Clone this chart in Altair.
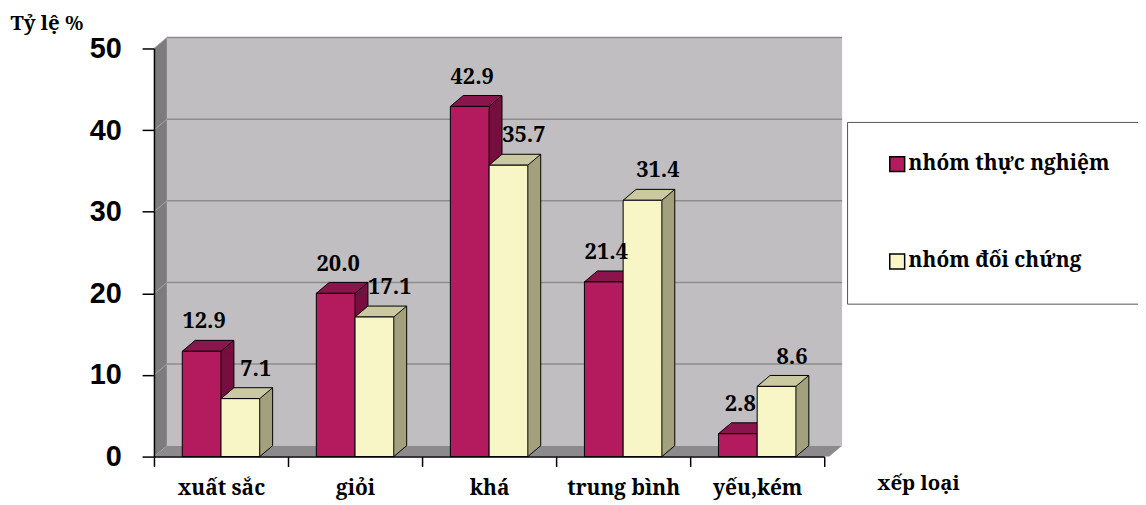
import altair as alt
import pandas as pd

# ---- data ----
categories = ["xuất sắc", "giỏi", "khá", "trung bình", "yếu,kém"]
series_names = ["nhóm thực nghiệm", "nhóm đối chứng"]
thuc_nghiem = [12.9, 20.0, 42.9, 21.4, 2.8]
doi_chung = [7.1, 17.1, 35.7, 31.4, 8.6]
y_ticks = [0, 10, 20, 30, 40, 50]

rows = []
for c, a, b in zip(categories, thuc_nghiem, doi_chung):
    rows.append({"xep_loai": c, "nhom": series_names[0], "ty_le": a})
    rows.append({"xep_loai": c, "nhom": series_names[1], "ty_le": b})
df = pd.DataFrame(rows)
grid_df = pd.DataFrame({"g": y_ticks[1:]})
one = pd.DataFrame({"k": [0]})

# ---- style ----
W, H = 675, 411
FRONT = ["#B31B5E", "#F8F6C6"]
TOP = ["#8A144C", "#CBC9A0"]
SIDE = ["#760E40", "#A3A17D"]
WALL = "#C0BEC0"
SIDEWALL = "#7D7B7D"
FLOOR = "#8C8A8C"
GRID = "#8E8C8E"
serif = "Noto Serif"
sans = "Liberation Sans"

y_scale = alt.Scale(domain=[0, 50], nice=False, zero=True)
y_axis = alt.Axis(values=y_ticks, title="Tỷ lệ %", titleAngle=0, titleX=-145, titleY=-19,
                  titleAlign="left", titleBaseline="alphabetic", titleFont=serif,
                  titleFontSize=20.5, titleFontWeight="bold", titleColor="black",
                  labelFont=sans, labelFontSize=29, labelFontWeight="bold", labelColor="black",
                  labelPadding=21, tickSize=12, tickColor="black", tickWidth=1.5,
                  domainColor="black", domainWidth=1.5, grid=False, zindex=1, format="d")
x_axis = alt.Axis(title="xếp loại", titleX=728, titleY=33, titleAlign="left",
                  titleBaseline="alphabetic", titleFont=serif, titleFontSize=20.5,
                  titleFontWeight="bold", titleColor="black",
                  labelFont=serif, labelFontSize=21, labelFontWeight="bold", labelColor="black",
                  labelAngle=0, labelBaseline="alphabetic", labelPadding=28,
                  tickBand="extent", tickSize=10, tickColor="black", tickWidth=1.5,
                  domainColor="black", domainWidth=1.5, zindex=1)
x_enc = alt.X("xep_loai:N", sort=categories,
              scale=alt.Scale(domain=categories, paddingInner=0, paddingOuter=0), axis=x_axis)
y_enc = alt.Y("ty_le:Q", scale=y_scale, axis=y_axis)

# ---- 3D background (decoration) ----
wall = alt.Chart(one).mark_rect(fill=WALL, opacity=1, yOffset=-11, y2Offset=-11).encode(
    x=alt.value(13), x2=alt.value(W + 18),
    y=alt.YDatum(50, scale=y_scale, axis=y_axis), y2=alt.datum(0))
side_wall = alt.Chart(one).mark_point(
    shape=f"M0,0 L0,-{H} L13,-{H + 11} L13,-11 Z", size=4, filled=True,
    fill=SIDEWALL, strokeWidth=0, opacity=1).encode(
    x=alt.value(0), y=alt.YDatum(0, scale=y_scale, axis=y_axis))
floor = alt.Chart(one).mark_point(
    shape=f"M0,0 L13,-11 L{W + 18},-11 L{W + 5},0 Z", size=4, filled=True,
    fill=FLOOR, strokeWidth=0, opacity=1).encode(
    x=alt.value(0), y=alt.YDatum(0, scale=y_scale, axis=y_axis))
grid_back = alt.Chart(grid_df).mark_rule(color=GRID, strokeWidth=1.5, yOffset=-11).encode(
    x=alt.value(13), x2=alt.value(W + 18), y=alt.Y("g:Q", scale=y_scale, axis=y_axis))
grid_side = alt.Chart(grid_df).mark_rule(color="#A6A4A6", strokeWidth=1, y2Offset=-11).encode(
    x=alt.value(0), x2=alt.value(13), y=alt.Y("g:Q", scale=y_scale, axis=y_axis),
    y2=alt.Y2("g:Q"))

# ---- bars ----
offs = [-19.5, 19.5]
label_dx = [-17, 35]
sides, tops, fronts, labels = [], [], [], []
for i, name in enumerate(series_names):
    off = offs[i]
    src = alt.Chart(df).transform_filter(alt.datum.nhom == name)
    sides.append(src.mark_bar(width=13, xOffset=off + 26, y2Offset=-11, fill=SIDE[i],
                              strokeWidth=0, opacity=1).encode(x=x_enc, y=y_enc, y2=alt.datum(0)))
    sides.append(src.mark_point(shape="M19.5,1 L19.5,0 L32.5,-11 L32.5,1 Z", size=4,
                                filled=True, fill=SIDE[i], strokeWidth=0, opacity=1,
                                xOffset=off).encode(x=x_enc, y=y_enc))
    sides.append(src.mark_point(shape="M19.5,-12 L32.5,-12 L32.5,-11 L19.5,0 Z", size=4,
                                filled=True, fill=SIDE[i], strokeWidth=0, opacity=1,
                                xOffset=off).encode(x=x_enc, y=alt.YDatum(0, scale=y_scale, axis=y_axis)))
    sides.append(src.mark_rule(color="black", strokeWidth=1, xOffset=off + 32.5, yOffset=-11,
                               y2Offset=-11).encode(x=x_enc, y=y_enc, y2=alt.datum(0)))
    sides.append(src.mark_point(shape="M32.5,-11 L19.5,0", size=4, filled=False,
                                stroke="black", strokeWidth=1, opacity=1,
                                xOffset=off).encode(x=x_enc, y=alt.YDatum(0, scale=y_scale, axis=y_axis)))
    tops.append(src.mark_point(shape="M-19.5,0 L-6.5,-11 L32.5,-11 L19.5,0 Z", size=4,
                               filled=True, fill=TOP[i], stroke="black", strokeWidth=1,
                               opacity=1, xOffset=off).encode(x=x_enc, y=y_enc))
    fronts.append(src.mark_bar(width=39, xOffset=off, stroke="black", strokeWidth=1,
                               opacity=1).encode(
        x=x_enc, y=y_enc,
        color=alt.Color("nhom:N", scale=alt.Scale(domain=series_names, range=FRONT), title=None,
                        legend=alt.Legend(orient="none", legendX=698, legendY=74, padding=32,
                                          fillColor="white", strokeColor="#555555",
                                          symbolType="square", symbolSize=225,
                                          symbolStrokeColor="black", symbolStrokeWidth=1.5,
                                          symbolOffset=8, labelOffset=1,
                                          labelFont=serif, labelFontSize=21, labelFontWeight="bold",
                                          labelColor="black", labelLimit=400, rowPadding=76))))
    labels.append(src.mark_text(font=serif, fontSize=22, fontWeight="bold", color="black",
                                dx=label_dx[i], dy=-30, baseline="middle").encode(
        x=x_enc, y=y_enc, text=alt.Text("ty_le:Q", format=".1f")))

chart = alt.layer(wall, side_wall, floor, grid_back, grid_side,
                  *sides, *tops, *fronts, *labels).properties(
    width=W, height=H,
    autosize=alt.AutoSizeParams(type="none"),
    padding={"left": 147, "top": 39, "right": 316, "bottom": 47},
    background="white",
).configure_view(stroke=None)

chart.save("out.html", embed_options={"renderer": "svg", "actions": False})
